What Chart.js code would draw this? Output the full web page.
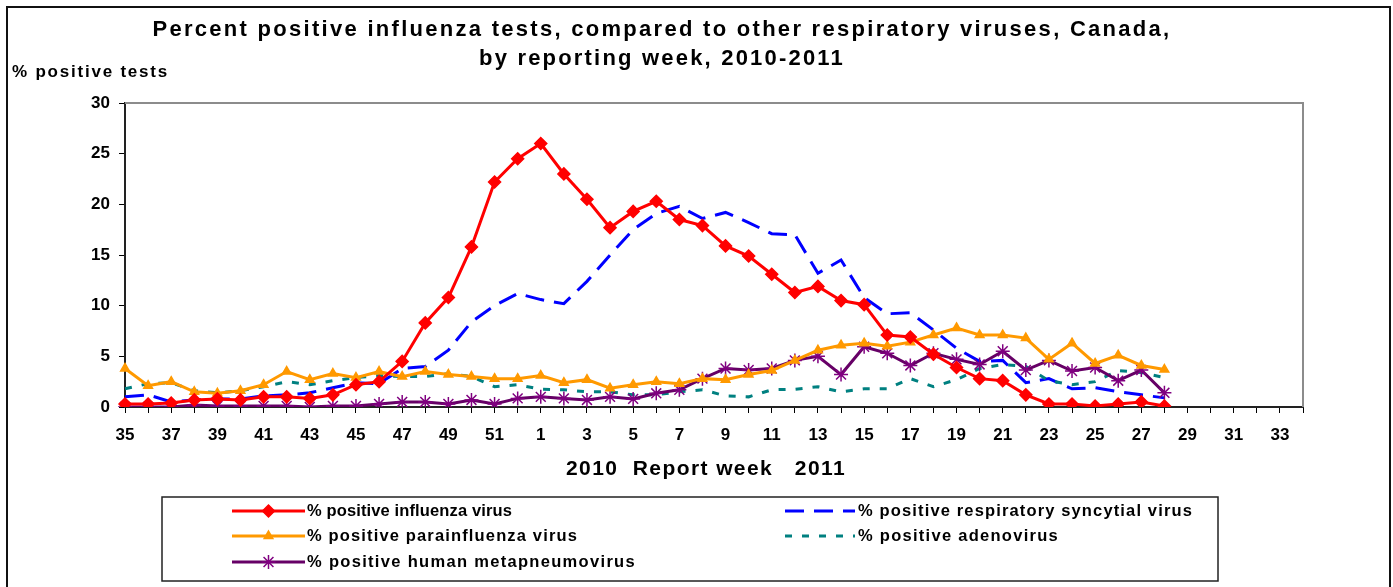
<!DOCTYPE html>
<html>
<head>
<meta charset="utf-8">
<script src="https://cdn.jsdelivr.net/npm/chart.js@4.4.1/dist/chart.umd.min.js"></script>
<style>
  html, body { margin: 0; padding: 0; background: #fff; }
  #wrap { width: 1393px; height: 587px; position: relative; }
</style>
</head>
<body>
<div id="wrap"><canvas id="myChart" width="1393" height="587"></canvas></div>
<script>
// report weeks: 2010 wk 35-52, 2011 wk 1-34
var semanas = ['35','36','37','38','39','40','41','42','43','44','45','46','47','48','49','50','51','52',
    '1','2','3','4','5','6','7','8','9','10','11','12','13','14','15','16','17','18','19','20',
    '21','22','23','24','25','26','27','28','29','30','31','32','33','34'];

var influenza = [0.3, 0.3, 0.4, 0.7, 0.8, 0.7, 1.0, 1.0, 0.85, 1.2, 2.2, 2.5, 4.5, 8.3, 10.8, 15.8, 22.2, 24.5,
    26.0, 23.0, 20.5, 17.7, 19.3, 20.3, 18.5, 17.9, 15.9, 14.9, 13.1, 11.3, 11.9, 10.5, 10.1, 7.1, 6.9, 5.2,
    3.9, 2.8, 2.6, 1.2, 0.3, 0.3, 0.1, 0.3, 0.5, 0.1, null, null, null, null, null, null];
var rsv = [1.0, 1.2, 0.5, 0.7, 0.8, 0.8, 1.1, 1.2, 1.4, 1.9, 2.4, 2.3, 3.8, 4.0, 5.6, 8.4, 10.0, 11.2,
    10.6, 10.2, 12.4, 15.0, 17.5, 19.1, 19.8, 18.6, 19.2, 18.2, 17.1, 17.0, 13.2, 14.5, 10.8, 9.2, 9.3, 7.6,
    5.8, 4.5, 4.6, 2.4, 2.8, 1.8, 1.9, 1.5, 1.2, 0.9, null, null, null, null, null, null];
var parainfluenza = [3.8, 2.1, 2.5, 1.5, 1.35, 1.6, 2.2, 3.5, 2.7, 3.3, 2.9, 3.5, 3.0, 3.5, 3.2, 3.0, 2.8, 2.8,
    3.1, 2.4, 2.7, 1.85, 2.2, 2.5, 2.3, 2.8, 2.7, 3.2, 3.6, 4.6, 5.6, 6.1, 6.3, 6.0, 6.4, 7.1,
    7.8, 7.1, 7.1, 6.8, 4.7, 6.3, 4.3, 5.1, 4.1, 3.7, null, null, null, null, null, null];
var adenovirus = [1.8, 2.3, 2.4, 1.6, 1.4, 1.6, 2.0, 2.5, 2.2, 2.6, 2.9, 3.1, 3.0, 3.0, 3.3, 3.0, 2.0, 2.2,
    1.75, 1.7, 1.5, 1.5, 1.2, 1.2, 1.5, 1.7, 1.1, 1.0, 1.7, 1.75, 2.0, 1.5, 1.8, 1.8, 2.8, 2.0,
    2.7, 3.8, 4.2, 4.0, 2.6, 2.2, 2.5, 3.6, 3.4, 2.9, null, null, null, null, null, null];
var metapneumo = [0.0, 0.0, 0.0, 0.2, 0.1, 0.1, 0.1, 0.1, 0.0, 0.1, 0.1, 0.3, 0.5, 0.5, 0.3, 0.7, 0.3, 0.85,
    1.0, 0.85, 0.7, 1.0, 0.8, 1.35, 1.7, 2.8, 3.8, 3.65, 3.8, 4.6, 5.0, 3.2, 5.95, 5.3, 4.1, 5.3,
    4.7, 4.2, 5.5, 3.65, 4.6, 3.55, 3.9, 2.6, 3.65, 1.4, null, null, null, null, null, null];

var titulo = ['Percent positive influenza tests, compared to other respiratory viruses, Canada,',
    'by reporting week, 2010-2011'];
var titulo_y = '% positive tests';
var titulo_x = '2010  Report week   2011';

var FUENTE = '"Liberation Sans", Arial, sans-serif';

// text drawn with a letter spacing so it spans a target width
var texto = function (ctx, s, x, y, size, ancho, align) {
    ctx.save();
    ctx.font = 'bold ' + size + 'px ' + FUENTE;
    ctx.fillStyle = '#000';
    ctx.textBaseline = 'middle';
    ctx.letterSpacing = '0px';
    var w = ctx.measureText(s).width;
    var ls = ancho ? (ancho - w) / s.length : 0;
    ctx.letterSpacing = ls + 'px';
    ctx.textAlign = 'left';
    var x0 = x;
    if (align === 'center') x0 = x - (w + ls * s.length) / 2;
    ctx.fillText(s, x0, y);
    ctx.restore();
};

var series = [
    { label: '% positive influenza virus', data: influenza, color: '#FF0000', pcolor: '#FF0000',
      dash: [], style: 'rectRot', r: 6, col: 0, row: 0 },
    { label: '% positive respiratory syncytial virus', data: rsv, color: '#0000FF', pcolor: '#0000FF',
      dash: [19, 10], style: false, r: 0, col: 1, row: 0 },
    { label: '% positive parainfluenza virus', data: parainfluenza, color: '#FF9900', pcolor: '#FF9900',
      dash: [], style: 'triangle', r: 5, col: 0, row: 1 },
    { label: '% positive adenovirus', data: adenovirus, color: '#008080', pcolor: '#008080',
      dash: [7, 10], style: false, r: 0, col: 1, row: 1 },
    { label: '% positive human metapneumovirus', data: metapneumo, color: '#660066', pcolor: '#800080',
      dash: [], style: 'star', r: 7, col: 0, row: 2 }
];
var orden = [0, 4, 1, 3, 2];

var marco = {
    id: 'marco',
    beforeDraw: function (chart) {
        var ctx = chart.ctx;
        ctx.save();
        ctx.fillStyle = '#fff';
        ctx.fillRect(0, 0, chart.width, chart.height);
        ctx.strokeStyle = '#111';
        ctx.lineWidth = 2;
        ctx.strokeRect(7, 7, 1383, 600);
        ctx.restore();
    },
    beforeDatasetsDraw: function (chart) {
        var ctx = chart.ctx, a = chart.chartArea;
        ctx.save();
        ctx.strokeStyle = '#8c8c8c';
        ctx.lineWidth = 2;
        ctx.beginPath();
        ctx.moveTo(a.left, a.top);
        ctx.lineTo(a.right, a.top);
        ctx.lineTo(a.right, a.bottom);
        ctx.stroke();
        ctx.restore();
    },
    afterDraw: function (chart) {
        var ctx = chart.ctx;
        texto(ctx, titulo[0], 662, 30, 22, 1019, 'center');
        texto(ctx, titulo[1], 662, 59, 22, 366, 'center');
        texto(ctx, titulo_y, 12, 72, 17, 157, 'left');
        texto(ctx, titulo_x, 706, 469, 21, 280, 'center');

        // legend box
        ctx.save();
        ctx.strokeStyle = '#222';
        ctx.lineWidth = 1.5;
        ctx.strokeRect(162, 497, 1056, 84);
        ctx.restore();
        var colX = [[232, 305, 307], [785, 855, 858]];
        var filaY = [511, 536, 562];
        var anchos = [205, 335, 271, 201, 329];
        series.forEach(function (s, i) {
            var c = colX[s.col], y = filaY[s.row];
            ctx.save();
            ctx.strokeStyle = s.color;
            ctx.lineWidth = 3;
            ctx.setLineDash(s.dash);
            ctx.beginPath();
            ctx.moveTo(c[0], y);
            ctx.lineTo(c[1], y);
            ctx.stroke();
            ctx.setLineDash([]);
            if (s.style && Chart.helpers && Chart.helpers.drawPoint) {
                ctx.fillStyle = s.pcolor;
                ctx.strokeStyle = s.pcolor;
                ctx.lineWidth = 1.5;
                Chart.helpers.drawPoint(ctx, { pointStyle: s.style, radius: s.r, borderWidth: 1.5, rotation: 0 },
                    (c[0] + c[1]) / 2, y);
            }
            ctx.restore();
            texto(ctx, s.label, c[2], y, 16.5, anchos[i], 'left');
        });
    }
};

var ctx = document.getElementById('myChart');
var myChart = new Chart(ctx, {
    type: 'line',
    data: {
        labels: semanas,
        datasets: series.map(function (s, i) {
            return {
                label: s.label,
                data: s.data,
                borderColor: s.color,
                backgroundColor: s.pcolor,
                borderWidth: 3,
                borderDash: s.dash,
                pointStyle: s.style,
                pointRadius: s.r,
                pointBorderColor: s.pcolor,
                pointBackgroundColor: s.pcolor,
                pointBorderWidth: 1.5,
                tension: 0,
                spanGaps: false,
                fill: false,
                order: orden[i]
            };
        })
    },
    plugins: [marco],
    options: {
        responsive: false,
        animation: false,
        devicePixelRatio: 1,
        layout: { padding: { left: 0, top: 103, right: 90, bottom: 0 } },
        plugins: {
            legend: { display: false },
            title: { display: false },
            tooltip: { enabled: false }
        },
        scales: {
            x: {
                type: 'category',
                offset: false,
                afterFit: function (scale) { scale.height = 180; },
                grid: { drawOnChartArea: false, drawTicks: true, tickLength: 6, color: '#000', lineWidth: 1 },
                border: { display: true, color: '#222', width: 2 },
                ticks: {
                    autoSkip: false,
                    maxRotation: 0,
                    minRotation: 0,
                    padding: 12,
                    color: '#000',
                    font: { family: FUENTE, size: 17, weight: 'bold' },
                    callback: function (v, i) { return i % 2 === 0 ? semanas[i] : ''; }
                }
            },
            y: {
                min: 0,
                max: 30,
                afterFit: function (scale) { scale.width = 125; },
                grid: { drawOnChartArea: false, drawTicks: true, tickLength: 6, color: '#000' },
                border: { display: true, color: '#222', width: 2 },
                ticks: {
                    stepSize: 5,
                    padding: 9,
                    color: '#000',
                    font: { family: FUENTE, size: 17, weight: 'bold' }
                }
            }
        }
    }
});
</script>
</body>
</html>
